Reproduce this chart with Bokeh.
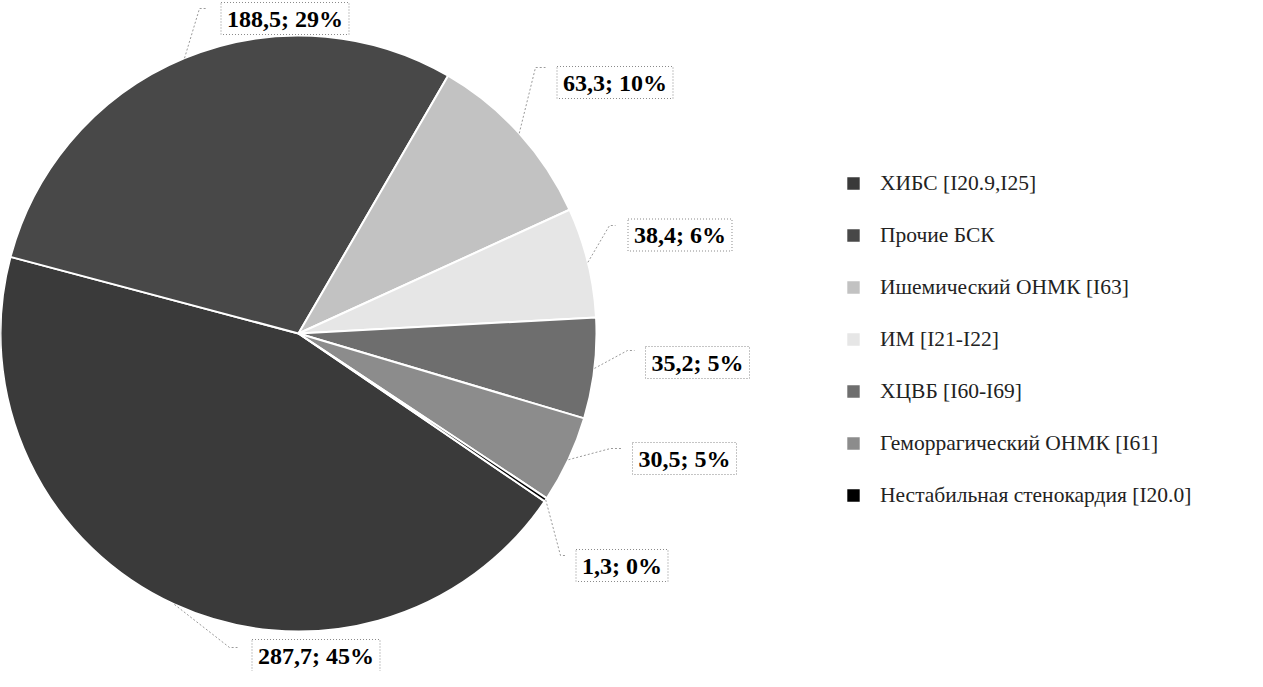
import math
from bokeh.plotting import figure
from bokeh.models import Range1d, Label, Legend, LegendItem, ColumnDataSource
from bokeh.embed import file_html
from bokeh.resources import INLINE

# ---------------- data ----------------
categories = [
    "ХИБС [I20.9,I25]",
    "Прочие БСК",
    "Ишемический ОНМК [I63]",
    "ИМ [I21-I22]",
    "ХЦВБ [I60-I69]",
    "Геморрагический ОНМК [I61]",
    "Нестабильная стенокардия [I20.0]",
]
values = [287.7, 188.5, 63.3, 38.4, 35.2, 30.5, 1.3]
colors = ["#3a3a3a", "#484848", "#c2c2c2", "#e6e6e6", "#6e6e6e", "#8c8c8c", "#000000"]

# ---------------- layout (screen px) ----------------
W, H = 1247, 671


def dx(sx):
    return sx - 8


def dy(sy):
    return 679 - sy


CX, CY, R = 306, 341, 298
FIRST_ANGLE = 124.3  # degrees clockwise from 12 o'clock

label_centers = [(323.5, 663), (292.5, 26), (622.5, 90), (687.5, 242.5),
                 (705, 370), (692, 466), (629.5, 573)]
leader_elbows = [(237, 655), (207, 16), (543, 75), (617, 233),
                 (635, 358), (618, 456), (568, 563)]
leader_ends = [(245, 655), (215, 16), (553, 75), (623, 233),
               (642, 358), (630, 456), (573, 563)]

total = sum(values)
starts, ends, mids = [], [], []
acc = FIRST_ANGLE
for v in values:
    span = v / total * 360.0
    s, e = acc, acc + span
    starts.append(math.radians(90 - s))
    ends.append(math.radians(90 - e))
    mids.append((s + e) / 2.0)
    acc = e

src = ColumnDataSource(dict(
    category=categories, value=values, color=colors,
    start=starts, end=ends,
    x=[dx(CX)] * len(values), y=[dy(CY)] * len(values),
))

p = figure(width=W, height=H, x_range=Range1d(0, W), y_range=Range1d(0, H),
           output_backend="svg", toolbar_location=None,
           x_axis_type=None, y_axis_type=None, min_border=0,
           outline_line_color=None, background_fill_color="white",
           border_fill_color="white")
p.grid.visible = False

r = p.wedge(x="x", y="y", radius=R, start_angle="start", end_angle="end",
            direction="clock", fill_color="color", line_color="white",
            line_width=2, source=src)

# leader lines
xs, ys = [], []
for i, m in enumerate(mids):
    ex = CX + R * math.sin(math.radians(m))
    ey = CY - R * math.cos(math.radians(m))
    bx, by = leader_elbows[i]
    tx, ty = leader_ends[i]
    xs.append([dx(ex), dx(bx), dx(tx)])
    ys.append([dy(ey), dy(by), dy(ty)])
p.multi_line(xs=xs, ys=ys, line_color="#9a9a9a", line_width=1, line_dash="2 2")

# data labels
for i, v in enumerate(values):
    pct = round(v / total * 100)
    txt = f"{v:.1f}".replace(".", ",") + f"; {pct}%"
    cx, cy = label_centers[i]
    kw = dict(x=dx(cx), y=dy(cy), text=txt, text_align="center",
              text_baseline="middle", text_font="Liberation Serif",
              text_font_style="bold", text_font_size="24px",
              text_color="#000000", border_line_color="#8a8a8a",
              border_line_dash="1 2", border_line_width=1,
              background_fill_color="white")
    try:
        lab = Label(padding=dict(x=6, y=3), **kw)
    except Exception:
        lab = Label(padding=5, **kw)
    p.add_layout(lab)

items = [LegendItem(label=c, renderers=[r], index=i) for i, c in enumerate(categories)]
legend = Legend(items=items, location=(844, 163), orientation="vertical",
                label_text_font="Liberation Serif", label_text_font_size="21.5px",
                label_text_color="#222222",
                glyph_width=18, glyph_height=18, label_standoff=18,
                label_height=26, spacing=26, padding=0, margin=0,
                border_line_color=None, background_fill_alpha=0)
p.add_layout(legend)

open("out.html", "w").write(file_html(p, INLINE))
